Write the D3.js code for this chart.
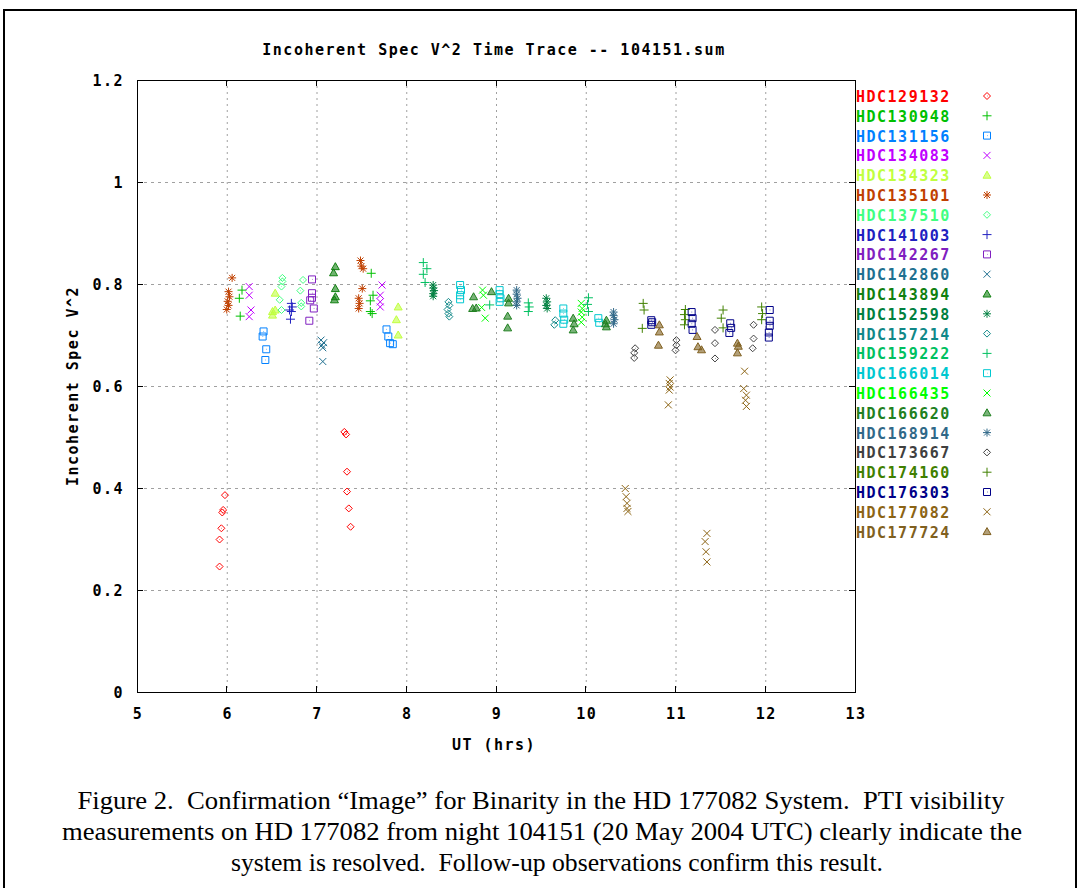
<!DOCTYPE html>
<html>
<head>
<meta charset="utf-8">
<script src="https://cdn.jsdelivr.net/npm/d3@7"></script>
<style>
  body { margin: 0; background: #fff; }
  svg { display: block; }
  .mono { font-family: "DejaVu Sans Mono", "Liberation Mono", monospace; font-weight: bold; font-size: 15px; letter-spacing: 1.5px; }
  .cap { font-family: "Liberation Serif", "Times New Roman", serif; font-size: 26px; white-space: pre; }
</style>
</head>
<body>
<div id="chart"></div>
<script>
// values: [UT hrs, incoherent V^2]
const hdc129132 = [[5.98,0.386],[5.96,0.357],[5.95,0.352],[5.94,0.321],[5.92,0.299],[5.92,0.246],
                   [7.31,0.510],[7.33,0.505],[7.34,0.432],[7.34,0.393],[7.36,0.360],[7.38,0.324]]
const hdc130948 = [[6.17,0.788],[6.14,0.772],[6.15,0.737],[7.61,0.821],[7.63,0.778],[7.60,0.767],[7.60,0.746],[7.62,0.742]]
const hdc131156 = [[6.41,0.707],[6.40,0.697],[6.44,0.672],[6.43,0.651],[7.78,0.711],[7.80,0.697],[7.82,0.684],[7.85,0.682]]
const hdc134083 = [[6.25,0.795],[6.25,0.778],[6.27,0.749],[6.25,0.736],[7.73,0.798],[7.71,0.778],[7.71,0.765],[7.71,0.755]]
const hdc134323 = [[6.54,0.782],[6.54,0.749],[6.51,0.746],[6.51,0.739],[7.91,0.755],[7.89,0.730],[7.91,0.700]]
const hdc135101 = [[6.06,0.812],[6.02,0.785],[6.03,0.775],[6.01,0.766],[6.02,0.758],[6.00,0.750],
                   [7.49,0.846],[7.50,0.835],[7.52,0.830],[7.51,0.791],[7.47,0.772],[7.48,0.762],[7.47,0.752]]
const hdc137510 = [[6.62,0.812],[6.62,0.805],[6.61,0.795],[6.59,0.769],[6.61,0.749],[6.85,0.808],[6.82,0.787],[6.83,0.763],[6.83,0.756]]
const hdc141003 = [[6.72,0.762],[6.73,0.755],[6.70,0.749],[6.72,0.746],[6.71,0.731]]
const hdc142267 = [[6.95,0.809],[6.95,0.782],[6.95,0.773],[6.93,0.768],[6.97,0.752],[6.92,0.728]]
const hdc142860 = [[7.05,0.690],[7.08,0.685],[7.06,0.680],[7.07,0.675],[7.07,0.648]]
const hdc143894 = [[7.21,0.834],[7.19,0.822],[7.21,0.791],[7.21,0.775],[7.20,0.769]]
const hdc152598 = [[8.30,0.798],[8.30,0.792],[8.31,0.787],[8.30,0.781],[8.30,0.776],
                   [9.56,0.772],[9.57,0.765],[9.56,0.758],[9.57,0.752]]
const hdc157214 = [[8.47,0.765],[8.48,0.758],[8.46,0.750],[8.47,0.742],[8.48,0.736],[9.66,0.729],[9.65,0.720]]
const hdc159222 = [[8.19,0.842],[8.23,0.830],[8.19,0.819],[8.21,0.803],[8.93,0.759],
                   [9.36,0.763],[9.37,0.755],[9.36,0.746],[10.03,0.773],[10.02,0.760],[10.03,0.746]]
const hdc166014 = [[8.60,0.798],[8.61,0.788],[8.60,0.778],[8.60,0.770],[9.04,0.788],[9.04,0.780],[9.05,0.772],[9.04,0.765],
                   [9.75,0.752],[9.75,0.742],[9.76,0.730],[9.75,0.722],[10.14,0.733],[10.15,0.724]]
const hdc166435 = [[8.85,0.788],[8.86,0.778],[8.84,0.754],[8.88,0.733],
                   [9.95,0.762],[9.96,0.752],[9.95,0.745],[9.96,0.735],[9.95,0.725]]
const hdc166620 = [[8.75,0.775],[8.74,0.752],[8.78,0.753],[8.95,0.785],[9.14,0.772],[9.14,0.763],[9.13,0.737],[9.13,0.714],
                   [9.86,0.733],[9.87,0.722],[9.86,0.710],[10.23,0.729],[10.22,0.722],[10.23,0.716]]
const hdc168914 = [[9.23,0.788],[9.23,0.780],[9.24,0.772],[9.23,0.765],[9.23,0.758],
                   [10.31,0.745],[10.31,0.738],[10.32,0.730],[10.31,0.722]]
const hdc173667 = [[10.55,0.674],[10.54,0.665],[10.54,0.655],[11.01,0.690],[11.01,0.680],[11.00,0.670],
                   [11.44,0.710],[11.44,0.684],[11.44,0.654],[11.87,0.720],[11.87,0.693],[11.86,0.674]]
const hdc174160 = [[10.64,0.762],[10.65,0.749],[10.63,0.713],[11.11,0.750],[11.10,0.740],[11.11,0.730],[11.10,0.720],
                   [11.53,0.749],[11.51,0.733],[11.53,0.714],[11.96,0.755],[11.97,0.742],[11.96,0.730]]
const hdc176303 = [[10.73,0.729],[10.74,0.725],[10.73,0.720],[11.18,0.745],[11.19,0.733],[11.18,0.722],[11.19,0.710],
                   [11.61,0.723],[11.62,0.714],[11.60,0.704],[12.05,0.749],[12.05,0.728],[12.05,0.718],[12.04,0.705],[12.04,0.695]]
const hdc177082 = [[10.44,0.399],[10.45,0.383],[10.46,0.370],[10.46,0.360],[10.47,0.354],
                   [10.94,0.612],[10.93,0.605],[10.94,0.598],[10.93,0.592],[10.92,0.563],
                   [11.35,0.311],[11.33,0.295],[11.34,0.275],[11.35,0.255],
                   [11.77,0.629],[11.76,0.595],[11.79,0.582],[11.78,0.572],[11.79,0.560]]
const hdc177724 = [[10.82,0.720],[10.82,0.706],[10.81,0.680],[11.24,0.697],[11.25,0.677],[11.29,0.671],
                   [11.69,0.684],[11.70,0.678],[11.69,0.665]]

const stars = ['HDC129132','HDC130948','HDC131156','HDC134083','HDC134323','HDC135101','HDC137510','HDC141003',
               'HDC142267','HDC142860','HDC143894','HDC152598','HDC157214','HDC159222','HDC166014','HDC166435',
               'HDC166620','HDC168914','HDC173667','HDC174160','HDC176303','HDC177082','HDC177724']
const points = [hdc129132,hdc130948,hdc131156,hdc134083,hdc134323,hdc135101,hdc137510,hdc141003,
                hdc142267,hdc142860,hdc143894,hdc152598,hdc157214,hdc159222,hdc166014,hdc166435,
                hdc166620,hdc168914,hdc173667,hdc174160,hdc176303,hdc177082,hdc177724]

const xTicks = [5,6,7,8,9,10,11,12,13]
const yTicks = [0,0.2,0.4,0.6,0.8,1,1.2]
const yTickLabels = ['0','0.2','0.4','0.6','0.8','1','1.2']

// gnuplot-ish colours, one per star
const colors = ['#ff0000','#00c000','#0080ff','#c000ff','#c0ff40','#c04000','#40ff80','#2020c0',
                '#8020c0','#207090','#108010','#008040','#108888','#00c060','#00c8d0','#00ff00',
                '#208020','#306888','#404040','#408000','#000088','#8c6414','#806020']

const W = 1078, H = 888
const L = 137, R = 855, T = 80, B = 692

const svg = d3.select('#chart').append('svg')
    .attr('width', W)
    .attr('height', H)

// outer frame of the figure
svg.append('path')
    .attr('d', `M4,${H+5}V10H1076V${H+5}`)
    .attr('fill', 'none')
    .attr('stroke', '#000')
    .attr('stroke-width', 2)

const x = d3.scaleLinear().domain([5, 13]).range([L, R])
const y = d3.scaleLinear().domain([0, 1.2]).range([B, T])

// grid
svg.append('g').selectAll('line')
    .data(xTicks.slice(1, -1))
    .join('line')
    .attr('x1', d => x(d) + 0.5).attr('x2', d => x(d) + 0.5)
    .attr('y1', T).attr('y2', B)
    .attr('stroke', '#a0a0a0')
    .attr('stroke-dasharray', '2,4')

svg.append('g').selectAll('line')
    .data(yTicks.slice(1, -1))
    .join('line')
    .attr('y1', d => y(d) + 0.5).attr('y2', d => y(d) + 0.5)
    .attr('x1', L).attr('x2', R)
    .attr('stroke', '#a0a0a0')
    .attr('stroke-dasharray', '3,4')

// inward ticks on all four sides
const tk = svg.append('g').attr('stroke', '#000').attr('shape-rendering', 'crispEdges')
xTicks.forEach(d => {
    tk.append('line').attr('x1', x(d)).attr('x2', x(d)).attr('y1', B).attr('y2', B - 6)
    tk.append('line').attr('x1', x(d)).attr('x2', x(d)).attr('y1', T).attr('y2', T + 6)
})
yTicks.forEach(d => {
    tk.append('line').attr('y1', y(d)).attr('y2', y(d)).attr('x1', L).attr('x2', L + 6)
    tk.append('line').attr('y1', y(d)).attr('y2', y(d)).attr('x1', R).attr('x2', R - 6)
})

svg.append('rect')
    .attr('x', L + 0.5).attr('y', T + 0.5)
    .attr('width', R - L).attr('height', B - T)
    .attr('fill', 'none')
    .attr('stroke', '#000')

// axis labels
svg.append('g').selectAll('text')
    .data(xTicks)
    .join('text')
    .attr('class', 'mono')
    .attr('x', d => x(d) + 1)
    .attr('y', B + 27)
    .attr('text-anchor', 'middle')
    .text(d => d)

svg.append('g').selectAll('text')
    .data(yTicks)
    .join('text')
    .attr('class', 'mono')
    .attr('x', 124)
    .attr('y', d => y(d) + 6)
    .attr('text-anchor', 'end')
    .text((d, i) => yTickLabels[i])

svg.append('text')
    .attr('class', 'mono')
    .attr('x', 494).attr('y', 55)
    .attr('text-anchor', 'middle')
    .text('Incoherent Spec V^2 Time Trace -- 104151.sum')

svg.append('text')
    .attr('class', 'mono')
    .attr('x', 494).attr('y', 750)
    .attr('text-anchor', 'middle')
    .text('UT (hrs)')

svg.append('text')
    .attr('class', 'mono')
    .attr('transform', `translate(78,${(T + B) / 2}) rotate(-90)`)
    .attr('text-anchor', 'middle')
    .text('Incoherent Spec V^2')

// point glyphs, cycling like gnuplot's point types
const glyphs = [
    'M0,-3.5L3.5,0L0,3.5L-3.5,0Z M0,0h0.5',  // diamond
    'M-4.5,0H4.5M0,-4.5V4.5',                // plus
    'M-3.5,-3.5H3.5V3.5H-3.5Z M0,0h0.5',     // box
    'M-3.5,-3.5L3.5,3.5M-3.5,3.5L3.5,-3.5',  // cross
    'M0,-4L4,3H-4Z',                         // triangle
    'M-4,0H4M0,-4V4M-3,-3L3,3M-3,3L3,-3'     // star
]

const plot = svg.append('g')
points.forEach((pts, i) => {
    const shape = i % 6
    plot.append('g').selectAll('path')
        .data(pts)
        .join('path')
        .attr('transform', d => `translate(${x(d[0])},${y(d[1])})`)
        .attr('d', glyphs[shape])
        .attr('fill', shape === 4 ? colors[i] : 'none')
        .attr('fill-opacity', 0.6)
        .attr('stroke', colors[i])
        .attr('stroke-width', 1)
})

// legend
const leg = svg.append('g')
stars.forEach((name, i) => {
    const ly = 96 + i * 19.8
    leg.append('text')
        .attr('class', 'mono')
        .attr('x', 856).attr('y', ly + 6)
        .attr('fill', colors[i])
        .text(name)
    const shape = i % 6
    leg.append('path')
        .attr('transform', `translate(987,${ly})`)
        .attr('d', glyphs[shape])
        .attr('fill', shape === 4 ? colors[i] : 'none')
        .attr('fill-opacity', 0.6)
        .attr('stroke', colors[i])
})

// caption, stretched to the widths of the scanned lines
const caption = [
    'Figure 2.  Confirmation \u201cImage\u201d for Binarity in the HD 177082 System.  PTI visibility',
    'measurements on HD 177082 from night 104151 (20 May 2004 UTC) clearly indicate the',
    'system is resolved.  Follow-up observations confirm this result.'
]
const capWidths = [927, 960, 652]
const capCenters = [541, 542, 557]
svg.append('g').selectAll('text')
    .data(caption)
    .join('text')
    .attr('class', 'cap')
    .attr('x', (d, i) => capCenters[i])
    .attr('y', (d, i) => 809 + i * 31)
    .attr('text-anchor', 'middle')
    .attr('textLength', (d, i) => capWidths[i])
    .attr('lengthAdjust', 'spacingAndGlyphs')
    .text(d => d)
</script>
</body>
</html>
